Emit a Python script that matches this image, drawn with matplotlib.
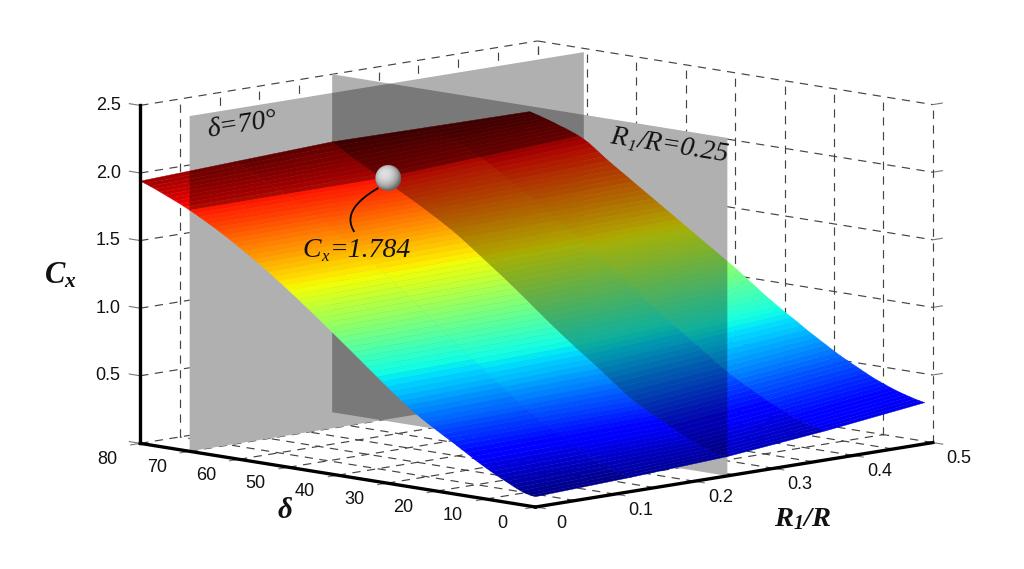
import numpy as np
import matplotlib
matplotlib.use('Agg')
import matplotlib.pyplot as plt
from matplotlib import cm
from matplotlib.colors import Normalize
from matplotlib.patches import Circle, PathPatch
from matplotlib.path import Path
from mpl_toolkits.mplot3d import proj3d
from mpl_toolkits.mplot3d.art3d import Poly3DCollection

plt.rcParams['font.family'] = 'Liberation Sans'
plt.rcParams['mathtext.fontset'] = 'custom'
plt.rcParams['mathtext.rm'] = 'Liberation Serif:italic'
plt.rcParams['mathtext.it'] = 'Liberation Serif:italic'
plt.rcParams['mathtext.bf'] = 'Liberation Serif:italic:bold'
plt.rcParams['mathtext.bfit'] = 'Liberation Serif:italic:bold'

# values, one row per degree of delta
delta = list(range(81))
r_ratio = [0, 0.12, 0.2415, 0.365, 0.49]

cx_r0 = [.076, .081, .09, .102, .118, .136, .155, .172, .19, .21,
         .23, .251, .272, .295, .318, .34, .363, .385, .406, .428,
         .45, .472, .495, .518, .543, .57, .597, .625, .654, .683,
         .713, .743, .774, .805, .835, .866, .896, .927, .957, .987,
         1.017, 1.047, 1.077, 1.107, 1.136, 1.166, 1.195, 1.224, 1.253, 1.282,
         1.31, 1.338, 1.366, 1.393, 1.42, 1.446, 1.472, 1.497, 1.522, 1.546,
         1.57, 1.594, 1.617, 1.64, 1.662, 1.684, 1.705, 1.725, 1.745, 1.765,
         1.784, 1.802, 1.82, 1.836, 1.852, 1.868, 1.884, 1.9, 1.914, 1.928,
         1.94]
cx_r1 = [.105, .111, .12, .131, .143, .158, .175, .191, .208, .227,
         .246, .266, .287, .308, .33, .351, .372, .393, .414, .437,
         .46, .484, .509, .535, .562, .589, .617, .644, .672, .701,
         .73, .759, .788, .818, .848, .878, .908, .939, .969, 1.0,
         1.03, 1.06, 1.09, 1.12, 1.15, 1.179, 1.208, 1.237, 1.265, 1.294,
         1.322, 1.35, 1.378, 1.405, 1.432, 1.458, 1.483, 1.507, 1.531, 1.555,
         1.578, 1.6, 1.622, 1.644, 1.666, 1.687, 1.708, 1.728, 1.748, 1.768,
         1.787, 1.806, 1.825, 1.843, 1.86, 1.877, 1.894, 1.912, 1.93, 1.95,
         1.97]
cx_r2 = [.143, .148, .155, .164, .175, .187, .2, .215, .23, .247,
         .265, .284, .303, .323, .343, .362, .382, .401, .421, .445,
         .47, .497, .525, .554, .583, .612, .641, .669, .696, .723,
         .75, .778, .806, .834, .863, .892, .921, .951, .982, 1.012,
         1.043, 1.074, 1.104, 1.134, 1.163, 1.192, 1.221, 1.249, 1.277, 1.305,
         1.333, 1.361, 1.389, 1.417, 1.444, 1.47, 1.495, 1.518, 1.541, 1.563,
         1.585, 1.607, 1.628, 1.649, 1.67, 1.69, 1.71, 1.73, 1.75, 1.77,
         1.79, 1.81, 1.83, 1.85, 1.87, 1.89, 1.91, 1.932, 1.955, 1.978,
         2.0]
cx_r3 = [.215, .222, .23, .239, .25, .262, .275, .29, .305, .321,
         .337, .355, .373, .393, .413, .433, .452, .472, .492, .515,
         .538, .563, .588, .615, .642, .669, .695, .72, .745, .771,
         .798, .824, .85, .878, .906, .934, .963, .992, 1.022, 1.05,
         1.078, 1.106, 1.134, 1.162, 1.189, 1.216, 1.242, 1.269, 1.296, 1.322,
         1.349, 1.376, 1.402, 1.429, 1.455, 1.48, 1.505, 1.529, 1.552, 1.576,
         1.6, 1.623, 1.646, 1.669, 1.692, 1.716, 1.74, 1.764, 1.787, 1.808,
         1.827, 1.845, 1.862, 1.879, 1.895, 1.911, 1.927, 1.944, 1.961, 1.977,
         1.993]
cx_r4 = [.305, .312, .32, .33, .34, .351, .363, .376, .39, .405,
         .42, .437, .455, .474, .493, .511, .53, .55, .57, .592,
         .615, .637, .66, .682, .705, .73, .755, .778, .8, .825,
         .85, .875, .9, .927, .955, .982, 1.01, 1.037, 1.065, 1.09,
         1.115, 1.14, 1.165, 1.19, 1.215, 1.24, 1.265, 1.29, 1.315, 1.34,
         1.365, 1.39, 1.415, 1.44, 1.465, 1.49, 1.515, 1.54, 1.565, 1.59,
         1.615, 1.64, 1.665, 1.69, 1.715, 1.742, 1.77, 1.798, 1.825, 1.847,
         1.865, 1.881, 1.895, 1.908, 1.92, 1.933, 1.945, 1.956, 1.967, 1.977,
         1.987]

delta_ticks = [0, 10, 20, 30, 40, 50, 60, 70, 80]
r_ticks = [0, 0.1, 0.2, 0.3, 0.4, 0.5]
r_grid = [0, 0.05, 0.1, 0.15, 0.2, 0.25, 0.3, 0.35, 0.4, 0.45, 0.5]
cx_ticks = [0.5, 1.0, 1.5, 2.0, 2.5]

plane_r = 0.2415
plane_delta = 70
plane_delta_top = 2.48
plane_delta_rmax = 0.496
mark_r, mark_delta, mark_cx = 0.25, 70, 1.784

W, H = 1024, 569
fig = plt.figure(figsize=(W / 100, H / 100), dpi=100, facecolor='white')
ax = fig.add_subplot(111, projection='3d', computed_zorder=False, proj_type='ortho')
ax.set_position([-1.5 / W, -243 / H, 1047.7 / W, 1047.7 / H])
ax.set_box_aspect((563, 558, 342.5), zoom=0.8)
ax.view_init(elev=9.3, azim=-135.1)
ax.set_xlim(0, 0.5, view_margin=0)
ax.set_ylim(0, 80, view_margin=0)
ax.set_zlim(0, 2.5, view_margin=0)
ax.set_axis_off()
ax.patch.set_alpha(0)

D = np.array(delta, dtype=float)
Z = np.column_stack([cx_r0, cx_r1, cx_r2, cx_r3, cx_r4])
RR, DD = np.meshgrid(r_ratio, D)

GRID = dict(color='#444444', lw=0.85, linestyle=(0, (7, 5.5)), zorder=1)
STUB = dict(color='#777777', lw=0.8, zorder=1)

# walls and floor
for v in cx_ticks:
    ax.plot([0, 0.5], [80, 80], [v, v], **GRID)
    ax.plot([0.5, 0.5], [80, 0], [v, v], **GRID)
    ax.plot([0, 0], [80, 82.2], [v, v], **STUB)
    ax.plot([0.5, 0.512], [0, 0], [v, v], **STUB)
for v in r_grid:
    ax.plot([v, v], [80, 80], [0, 2.5], **GRID)
    ax.plot([v, v], [0, 80], [0, 0], **GRID)
for v in delta_ticks:
    ax.plot([0.5, 0.5], [v, v], [0, 2.5], **GRID)
    ax.plot([0, 0.5], [v, v], [0, 0], **GRID)
    ax.plot([0, -0.012], [v, v], [0, 0], **STUB)
for v in r_ticks:
    ax.plot([v, v], [0, -2.0], [0, 0], **STUB)
ax.plot([0, 0], [80, 82.2], [0, 0], **STUB)

# the two section planes
i_plane = delta.index(plane_delta)
j_plane = r_ratio.index(plane_r)
top_r = list(zip([plane_r] * len(D), D, Z[:, j_plane]))
top_d = list(zip(r_ratio, [plane_delta] * 5, Z[i_plane]))
top_d.append((plane_delta_rmax, plane_delta, Z[i_plane, -1]))

upper_r = top_r + [(plane_r, 80, 2.5), (plane_r, 0, 2.5)]
lower_r = top_r + [(plane_r, 80, 0), (plane_r, 0, 0)]
upper_d = top_d + [(plane_delta_rmax, plane_delta, plane_delta_top), (0, plane_delta, plane_delta_top)]
lower_d = top_d + [(plane_delta_rmax, plane_delta, 0), (0, plane_delta, 0)]

full = [[(plane_r, 0, 0), (plane_r, 80, 0), (plane_r, 80, 2.5), (plane_r, 0, 2.5)],
        [(0, plane_delta, 0), (plane_delta_rmax, plane_delta, 0),
         (plane_delta_rmax, plane_delta, plane_delta_top), (0, plane_delta, plane_delta_top)]]
ax.add_collection3d(Poly3DCollection(full, facecolors='white', edgecolors='none', zorder=2))
for poly, zo in [(lower_r, 3), (lower_d, 3), (upper_r, 5), (upper_d, 5)]:
    ax.add_collection3d(Poly3DCollection([poly], facecolors='black', edgecolors='none',
                                         alpha=0.31, zorder=zo))

# surface
cell = (Z[:-1, :-1] + Z[1:, :-1] + Z[:-1, 1:] + Z[1:, 1:]) / 4
cell = np.pad(cell, ((0, 1), (0, 1)), mode='edge')
colors = cm.jet(Normalize(Z.min(), Z.max())(cell))
ax.plot_surface(RR, DD, Z, facecolors=colors, rstride=1, cstride=1, shade=False,
                linewidth=0.3, antialiased=True, zorder=4)

# thick axes
AXIS = dict(color='black', lw=2.4, zorder=6, solid_capstyle='projecting')
ax.plot([0, 0], [80, 80], [0, 2.5], **AXIS)
ax.plot([0, 0], [80, 0], [0, 0], **AXIS)
ax.plot([0, 0.5], [0, 0], [0, 0], **AXIS)


def to_px(r, d, c):
    x, y, _ = proj3d.proj_transform(r, d, c, ax.get_proj())
    px, py = ax.transData.transform((x, y))
    return px, H - py


ov = fig.add_axes([0, 0, 1, 1], zorder=10)
ov.patch.set_alpha(0)
ov.axis('off')
ov.set_xlim(0, W)
ov.set_ylim(H, 0)
renderer = fig.canvas.get_renderer()


def chain_text(x, y, angle, pieces):
    # pieces of italic serif text set one after the other along a baseline
    a = np.radians(angle)
    for s, size, drop in pieces:
        t = ov.text(x + drop * np.sin(a), y + drop * np.cos(a), s, family='Liberation Serif',
                    style='italic', fontsize=size, color='#111111', ha='left', va='baseline',
                    rotation_mode='anchor')
        w = t.get_window_extent(renderer).width
        t.set_rotation(angle)
        x += w * np.cos(a) + 1
        y -= w * np.sin(a) + 0.1


TICK = dict(fontsize=13, ha='center', va='center', color='#111111')
for v in cx_ticks:
    x, y = to_px(0, 80, v)
    ov.text(x - 32, y, '%.1f' % v, **TICK)
for v in delta_ticks:
    x, y = to_px(0, v, 0)
    ov.text(x - 33, y + 16, '%d' % v, **TICK)
for v in r_ticks:
    x, y = to_px(v, 0, 0)
    ov.text(x + 26, y + 16, '%g' % v, **TICK)

BOLD = dict(ha='center', va='center', color='#111111')
ov.text(60, 275, r'$\mathbf{C}_{\mathbf{x}}$', fontsize=22, **BOLD)
ov.text(285, 511, 'δ', family='Liberation Serif', style='italic', weight='bold', fontsize=21, **BOLD)
ov.text(803, 519, r'$\mathbf{R}_{\mathbf{1}}\mathbf{/R}$', fontsize=20.5, **BOLD)

chain_text(208, 137, 9, [('δ=70°', 20, 0)])
chain_text(609, 143, -9, [('R', 20, 0), ('1', 12, 5), ('/R=0.25', 20, 0)])
chain_text(302, 257, 0, [('C', 20, 0), ('x', 12, 4), ('=1.784', 20, 0)])

# marker ball and leader
mx, my = to_px(mark_r, mark_delta, mark_cx)
leader = Path([(mx - 10, my + 10), (mx - 34, my + 24), (mx - 44, my + 38), (mx - 34, my + 54)],
              [Path.MOVETO, Path.CURVE4, Path.CURVE4, Path.CURVE4])
ov.add_patch(PathPatch(leader, fc='none', ec='black', lw=1.3))

rad = 13
u, v = np.meshgrid(np.linspace(-1, 1, 80), np.linspace(-1, 1, 80))
nz = np.sqrt(np.clip(1 - u ** 2 - v ** 2, 0, 1))
light = np.clip(-0.25 * u - 0.35 * v + 0.9 * nz, 0, 1)
ball = ov.imshow(0.4 + 0.48 * light, cmap='gray', vmin=0, vmax=1, aspect='auto',
                 extent=(mx - rad, mx + rad, my + rad, my - rad), origin='upper',
                 interpolation='bilinear')
ball.set_clip_path(Circle((mx, my), rad, transform=ov.transData))
ov.set_xlim(0, W)
ov.set_ylim(H, 0)

fig.savefig('out.png', dpi=100)
